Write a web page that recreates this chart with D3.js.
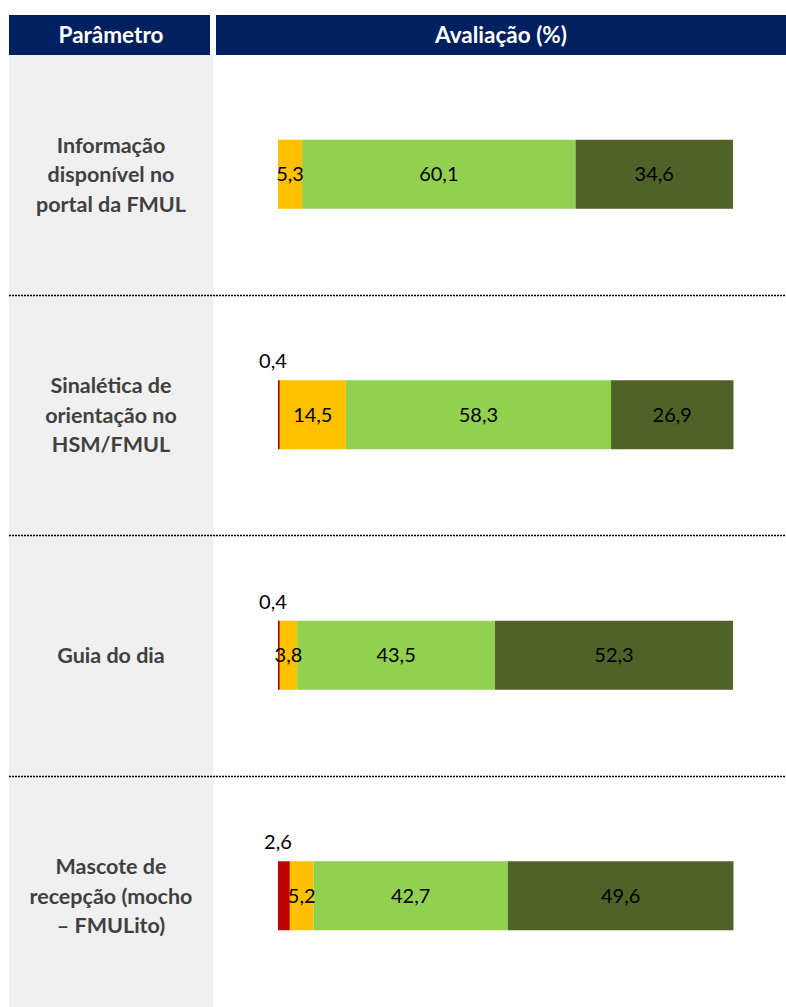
<!DOCTYPE html>
<html>
<head>
<meta charset="utf-8">
<script src="https://cdn.jsdelivr.net/npm/d3@7"></script>
<style>
    body { margin: 0; background: #fff; }
    svg { display: block; font-family: Lato, "Open Sans", sans-serif; }
</style>
</head>
<body>
<svg id="chart"></svg>
<script>
// categorias (parametros) e linhas de texto de cada um
const parametros = ["info", "sinaletica", "guia", "mascote"]
const parametroLinhas = [
    ["Informação", "disponível no", "portal da FMUL"],
    ["Sinalética de", "orientação no", "HSM/FMUL"],
    ["Guia do dia"],
    ["Mascote de", "recepção (mocho", "– FMULito)"]
]

// avaliacao (%) por nivel
const nivel1 = [0, 0.4, 0.4, 2.6]
const nivel2 = [5.3, 14.5, 3.8, 5.2]
const nivel3 = [60.1, 58.3, 43.5, 42.7]
const nivel4 = [34.6, 26.9, 52.3, 49.6]

const niveis = ["n1", "n2", "n3", "n4"]
const cores = ["#C00000", "#FFC000", "#92D050", "#4F6228"]

const headerLabels = ["Parâmetro", "Avaliação (%)"]

const width = 786, height = 1007

const svg = d3.select('#chart')
    .attr('width', width)
    .attr('height', height)

const table = parametros.map((p, i) => ({
    parametro: p,
    n1: nivel1[i], n2: nivel2[i], n3: nivel3[i], n4: nivel4[i]
}))

const stack = d3.stack().keys(niveis)(table)

const xScale = d3.scaleLinear()
    .domain([0, 100])
    .range([278, 733])

const yScale = d3.scaleBand()
    .domain(parametros)
    .range([54, 1016])

const barH = 69
const barY = p => yScale(p) + (yScale.bandwidth() - barH) / 2
const fmt = v => d3.format('.1f')(v).replace('.', ',')

// coluna cinzenta
svg.append('rect')
    .attr('x', 9).attr('y', 55)
    .attr('width', 204).attr('height', height - 55)
    .attr('fill', '#F0F0F0')

// cabecalho
svg.append('rect')
    .attr('x', 9).attr('y', 15).attr('width', 201).attr('height', 40)
    .attr('fill', '#002060')
svg.append('rect')
    .attr('x', 216).attr('y', 15).attr('width', width - 216).attr('height', 40)
    .attr('fill', '#002060')

svg.selectAll('.header')
    .data(headerLabels)
    .join('text')
        .attr('class', 'header')
        .attr('x', (d, i) => i == 0 ? 111 : 501)
        .attr('y', 43)
        .attr('text-anchor', 'middle')
        .attr('fill', '#fff')
        .attr('font-weight', 'bold')
        .attr('font-size', 22.5)
        .text(d => d)

// separadores pontilhados
svg.selectAll('.sep')
    .data(parametros.slice(1))
    .join('line')
        .attr('class', 'sep')
        .attr('x1', 9).attr('x2', width)
        .attr('y1', d => Math.round(yScale(d)) + 0.5)
        .attr('y2', d => Math.round(yScale(d)) + 0.5)
        .attr('stroke', '#000')
        .attr('stroke-width', 1.6)
        .attr('stroke-dasharray', '2,1')

// nomes dos parametros
parametros.forEach((p, i) => {
    const lines = parametroLinhas[i]
    const cy = yScale(p) + yScale.bandwidth() / 2
    const lh = 29.5
    svg.append('text')
        .attr('text-anchor', 'middle')
        .attr('fill', '#404040')
        .attr('font-weight', 'bold')
        .attr('font-size', 21.5)
        .selectAll('tspan')
        .data(lines)
        .join('tspan')
            .attr('x', 111)
            .attr('y', (d, j) => cy + 8 + (j - (lines.length - 1) / 2) * lh)
            .text(d => d)
})

// barras
const layers = svg.selectAll('.layer')
    .data(stack)
    .join('g')
        .attr('class', 'layer')
        .attr('fill', (d, i) => cores[i])

layers.selectAll('rect')
    .data(d => d.filter(s => s[1] - s[0] > 0))
    .join('rect')
        .attr('x', d => xScale(d[0]))
        .attr('y', d => barY(d.data.parametro))
        .attr('width', d => xScale(d[1]) - xScale(d[0]))
        .attr('height', barH)

// rotulos
stack.forEach((layer, k) => {
    svg.append('g')
        .selectAll('text')
        .data(layer.filter(s => s[1] - s[0] > 0))
        .join('text')
            .attr('text-anchor', 'middle')
            .attr('font-size', 20)
            .attr('fill', '#000')
            .attr('x', d => k == 0
                ? (xScale(d[0]) + xScale(d[1])) / 2 - 6
                : (xScale(d[0]) + xScale(d[1])) / 2)
            .attr('y', d => k == 0
                ? barY(d.data.parametro) - 12
                : barY(d.data.parametro) + barH / 2 + 7)
            .text(d => fmt(d[1] - d[0]))
})
</script>
</body>
</html>
